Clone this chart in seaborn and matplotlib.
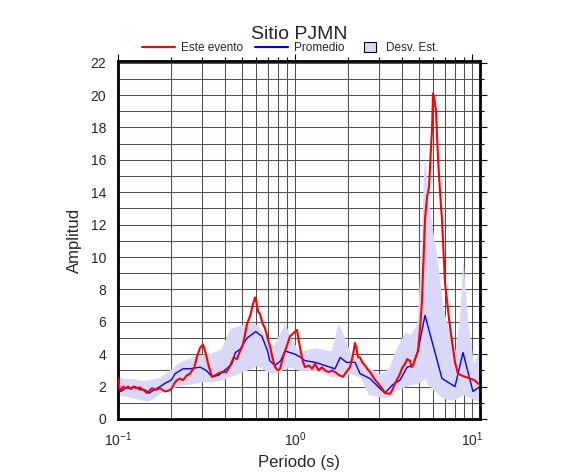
import numpy as np
import pandas as pd
import matplotlib
matplotlib.use("Agg")
import matplotlib.pyplot as plt
from matplotlib.ticker import MultipleLocator, LogLocator, NullFormatter
from matplotlib.patches import Patch
from matplotlib.lines import Line2D
import seaborn as sns

# Este evento (periodo [s], amplitud)
evento_T = [0.100, 0.102, 0.104, 0.107, 0.110, 0.114, 0.118, 0.122, 0.127, 0.133,
            0.139, 0.146, 0.150, 0.156, 0.163, 0.173, 0.184, 0.193, 0.200, 0.208,
            0.215, 0.224, 0.233, 0.245, 0.255, 0.270, 0.280, 0.291, 0.302, 0.312,
            0.323, 0.333, 0.340, 0.355, 0.367, 0.385, 0.410, 0.430, 0.450, 0.470,
            0.489, 0.505, 0.522, 0.536, 0.560, 0.572, 0.594, 0.605, 0.620, 0.634,
            0.655, 0.677, 0.700, 0.722, 0.745, 0.771, 0.800, 0.823, 0.850, 0.878,
            0.905, 0.937, 0.980, 1.026, 1.050, 1.081, 1.110, 1.139, 1.200, 1.250,
            1.297, 1.360, 1.420, 1.477, 1.550, 1.620, 1.683, 1.780, 1.867, 1.950,
            2.045, 2.120, 2.183, 2.230, 2.270, 2.330, 2.400, 2.486, 2.560, 2.653,
            2.800, 2.944, 3.100, 3.225, 3.441, 3.550, 3.673, 3.800, 3.920, 4.050,
            4.183, 4.300, 4.464, 4.550, 4.642, 4.800, 4.953, 5.080, 5.219, 5.350,
            5.427, 5.569, 5.716, 5.850, 5.943, 6.021, 6.150, 6.261, 6.425, 6.600,
            6.768, 7.040, 7.223, 7.510, 8.017, 8.334, 8.897, 9.743, 10.30, 10.81,
            11.10]
evento_A = [2.5, 1.9, 1.8, 2.0, 1.9, 2.0, 1.85, 2.0, 1.9, 1.95,
            1.8, 1.6, 1.75, 1.9, 1.8, 1.9, 1.7, 1.75, 1.85, 2.2,
            2.4, 2.5, 2.4, 2.7, 2.8, 3.2, 3.9, 4.4, 4.6, 4.1,
            3.4, 2.9, 2.6, 2.7, 2.8, 2.9, 2.9, 3.3, 3.8, 3.7,
            4.2, 4.5, 5.2, 5.9, 6.4, 6.9, 7.5, 7.2, 6.6, 6.5,
            5.9, 5.6, 5.0, 4.5, 3.8, 3.2, 3.0, 3.1, 3.7, 4.2,
            4.6, 5.1, 5.3, 5.5, 4.8, 4.1, 3.5, 3.2, 3.3, 3.1,
            3.4, 3.0, 3.2, 3.0, 2.9, 3.0, 2.9, 2.7, 2.6, 2.9,
            3.2, 3.9, 4.7, 4.3, 3.8, 3.8, 3.5, 3.3, 3.1, 2.9,
            2.5, 2.2, 1.9, 1.6, 1.55, 1.8, 2.2, 2.5, 2.8, 3.2,
            3.4, 3.7, 3.6, 3.2, 3.3, 3.8, 4.2, 5.5, 7.3, 10.5,
            12.3, 13.7, 14.3, 16.5, 17.8, 20.1, 19.6, 19.0, 16.1, 14.0,
            12.3, 8.4, 7.3, 5.7, 3.5, 2.8, 2.65, 2.5, 2.4, 2.2,
            2.1]

# Promedio
prom_T = [0.100, 0.104, 0.110, 0.118, 0.125, 0.133, 0.142, 0.150, 0.160, 0.173,
          0.184, 0.200, 0.210, 0.233, 0.255, 0.291, 0.315, 0.340, 0.370, 0.410,
          0.440, 0.460, 0.489, 0.536, 0.600, 0.650, 0.700, 0.720, 0.771, 0.830,
          0.878, 0.937, 1.000, 1.080, 1.139, 1.297, 1.477, 1.683, 1.800, 1.950,
          2.050, 2.183, 2.330, 2.650, 2.944, 3.225, 3.550, 3.920, 4.300, 4.642,
          4.953, 5.427, 6.768, 8.017, 8.897, 10.13, 11.10]
prom_A = [2.0, 1.7, 1.9, 1.9, 2.0, 1.8, 1.8, 1.6, 1.8, 2.0,
          2.2, 2.4, 2.8, 3.1, 3.1, 3.2, 3.0, 2.6, 2.7, 3.1,
          3.4, 4.1, 4.3, 5.0, 5.4, 5.1, 4.2, 3.6, 3.3, 3.6,
          4.2, 4.1, 4.0, 3.8, 3.6, 3.5, 3.3, 3.1, 3.8, 3.5,
          3.5, 3.5, 2.8, 2.5, 2.0, 1.6, 2.1, 2.4, 3.2, 3.3,
          4.2, 6.4, 2.5, 2.0, 4.1, 1.7, 2.0]

# Desviacion estandar (limites inferior y superior)
desv_T = [0.100, 0.110, 0.120, 0.133, 0.146, 0.160, 0.173, 0.184, 0.200, 0.215,
          0.233, 0.270, 0.300, 0.340, 0.380, 0.430, 0.500, 0.560, 0.610, 0.680,
          0.750, 0.878, 0.937, 1.050, 1.300, 1.600, 1.750, 1.900, 2.050, 2.330,
          2.600, 2.950, 3.200, 3.440, 3.670, 4.183, 4.464, 4.900, 5.150, 5.330,
          5.427, 5.650, 6.021, 6.340, 6.850, 7.370, 8.017, 8.500, 8.897, 9.430,
          10.20, 10.81, 11.10]
desv_inf = [1.5, 1.4, 1.3, 1.2, 1.1, 1.3, 1.6, 1.8, 1.9, 2.0,
            2.1, 2.2, 2.3, 2.3, 2.4, 2.6, 2.9, 3.1, 3.3, 3.0,
            2.8, 3.1, 3.2, 3.0, 3.0, 2.6, 2.6, 2.7, 2.8, 2.6,
            1.5, 1.4, 1.3, 1.4, 1.7, 2.0, 2.1, 2.2, 2.3, 2.4,
            2.5, 2.1, 1.8, 1.6, 1.3, 1.2, 1.2, 1.4, 1.5, 1.4,
            1.2, 1.1, 1.0]
desv_sup = [2.6, 2.5, 2.5, 2.4, 2.4, 2.5, 2.6, 2.8, 3.1, 3.4,
            3.6, 3.9, 4.0, 4.1, 4.3, 5.6, 5.8, 6.0, 5.8, 5.1,
            4.5, 5.9, 5.1, 4.2, 4.4, 4.2, 5.9, 5.1, 4.1, 3.6,
            3.2, 2.8, 2.9, 3.3, 4.2, 5.4, 5.2, 5.9, 10.4, 15.3,
            16.1, 13.5, 11.5, 10.0, 6.9, 5.5, 4.2, 6.3, 9.8, 6.3,
            3.4, 4.1, 4.2]

df_evento = pd.DataFrame({"Periodo": evento_T, "Amplitud": evento_A})
df_prom = pd.DataFrame({"Periodo": prom_T, "Amplitud": prom_A})

sns.set_theme(style="white")
plt.rcParams["font.family"] = ["Liberation Sans", "DejaVu Sans"]
plt.rcParams["mathtext.fontset"] = "custom"
plt.rcParams["mathtext.rm"] = "Liberation Sans"
plt.rcParams["mathtext.it"] = "Liberation Sans:italic"

fig = plt.figure(figsize=(5.86, 4.75), dpi=100)
ax = fig.add_axes([0.2014, 0.1179, 0.6177, 0.7537])

banda = "#d9d9f7"
ax.fill_between(desv_T, desv_inf, desv_sup, color=banda, lw=0, zorder=1)
sns.lineplot(data=df_prom, x="Periodo", y="Amplitud", color="#0000ff",
             lw=1.0, estimator=None, sort=False, ax=ax, zorder=3)
sns.lineplot(data=df_evento, x="Periodo", y="Amplitud", color="#ff0000",
             lw=1.5, estimator=None, sort=False, ax=ax, zorder=4)

ax.set_xscale("log")
ax.set_xlim(0.1, 11.1)
ax.set_ylim(0, 22.1)
ax.yaxis.set_major_locator(MultipleLocator(2))
ax.yaxis.set_minor_locator(MultipleLocator(1))
ax.xaxis.set_minor_locator(LogLocator(base=10, subs=np.arange(2, 10)))
ax.xaxis.set_minor_formatter(NullFormatter())

ax.grid(True, which="both", color="#505050", lw=0.75, zorder=0)
ax.set_axisbelow(True)
for s in ax.spines.values():
    s.set_color("black")
    s.set_linewidth(2)

ax.tick_params(axis="both", which="both", direction="out", top=True, right=True,
               color="black", labelsize=10, width=0.8)
ax.tick_params(which="major", length=5)
ax.tick_params(which="minor", length=3)

ax.set_xlabel("Periodo (s)", fontsize=12, labelpad=4)
ax.set_ylabel("Amplitud", fontsize=12, labelpad=6)
ax.set_title("Sitio PJMN", fontsize=14, pad=16)

# leyenda: dos lineas y el cuadro de la desviacion
W, H = 586, 475
ley1 = fig.legend([Line2D([], [], color="#ff0000", lw=1.5),
                   Line2D([], [], color="#0000ff", lw=1.5)],
                  ["Este evento", "Promedio"], ncol=2, loc="center left",
                  bbox_to_anchor=(142 / W, 1 - 48 / H), frameon=False,
                  fontsize=8.5, handlelength=2.8, handletextpad=0.5,
                  columnspacing=1.0, borderpad=0, borderaxespad=0)
ley2 = fig.legend([Patch(facecolor=banda, edgecolor="black", lw=0.8)],
                  ["Desv. Est."], loc="center left",
                  bbox_to_anchor=(364 / W, 1 - 48 / H), frameon=False,
                  fontsize=8.5, handlelength=1.0, handleheight=1.0,
                  handletextpad=0.85, borderpad=0, borderaxespad=0)

fig.savefig("out.png", dpi=100)
